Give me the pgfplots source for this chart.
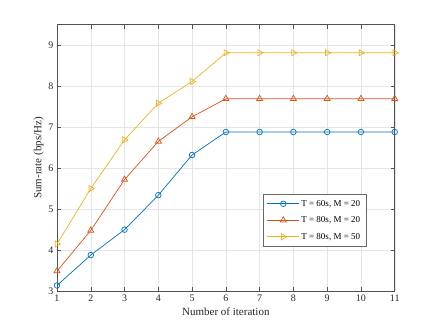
\documentclass[border=0pt]{standalone}
\usepackage{pgfplots}
\pgfplotsset{compat=1.18}
\usepackage{fontspec}
\setmainfont{Liberation Serif}
\definecolor{c1}{rgb}{0,0.447,0.741}
\definecolor{c2}{rgb}{0.85,0.325,0.098}
\definecolor{c3}{rgb}{0.929,0.694,0.125}
\definecolor{axc}{rgb}{0.15,0.15,0.15}
\begin{document}
\begin{tikzpicture}
\begin{axis}[
  scale only axis,
  width=337.7pt, height=266.7pt,
  xmin=1, xmax=11, ymin=3, ymax=9.5,
  xtick={1,...,11}, ytick={3,...,9},
  grid=major,
  grid style={color=black!10, line width=0.4pt},
  axis line style={color=axc!80, line width=0.5pt},
  tick style={color=axc!80, line width=0.5pt},
  tick align=inside,
  major tick length=4pt,
  tick label style={font=\fontsize{10}{11}\selectfont, color=axc},
  label style={font=\fontsize{11}{12}\selectfont, color=axc},
  /pgf/number format/assume math mode=true,
  xlabel={Number of iteration},
  ylabel={Sum-rate (bps/Hz)},
  xlabel style={yshift=1pt},
  ylabel style={yshift=-2pt},
  legend style={at={(rel axis cs:0.916,0.1665)}, anchor=south east,
    font=\fontsize{9}{10}\selectfont, draw=axc!70, line width=0.5pt,
    row sep=5pt, inner xsep=4pt, inner ysep=4pt},
  legend cell align=left,
  legend image code/.code={\draw[mark repeat=2,mark phase=2,#1] plot coordinates {(0pt,0pt) (15.8pt,0pt) (31.6pt,0pt)};},
  every axis plot/.append style={line width=0.7pt},
]
\path (rel axis cs:0,0) ++(-57pt,-36.3pt) coordinate (bl);
\path (rel axis cs:1,1) ++(41.3pt,24.5pt) coordinate (tr);
\addplot[c1, mark=o, mark size=2.8pt, mark options={line width=0.7pt}] coordinates {
(1,3.14) (2,3.88) (3,4.50) (4,5.34) (5,6.32) (6,6.88) (7,6.88) (8,6.88) (9,6.88) (10,6.88) (11,6.88)};
\addlegendentry{T = 60s, M = 20}
\addplot[c2, mark=triangle, mark size=3.5pt, mark options={line width=0.7pt}] coordinates {
(1,3.49) (2,4.48) (3,5.72) (4,6.65) (5,7.25) (6,7.69) (7,7.69) (8,7.69) (9,7.69) (10,7.69) (11,7.69)};
\addlegendentry{T = 80s, M = 20}
\addplot[c3, mark=triangle, mark size=3.5pt, mark options={line width=0.7pt, rotate=-90}] coordinates {
(1,4.15) (2,5.50) (3,6.69) (4,7.58) (5,8.11) (6,8.81) (7,8.81) (8,8.81) (9,8.81) (10,8.81) (11,8.81)};
\addlegendentry{T = 80s, M = 50}
\end{axis}
\useasboundingbox (bl) rectangle (tr);
\end{tikzpicture}
\end{document}
